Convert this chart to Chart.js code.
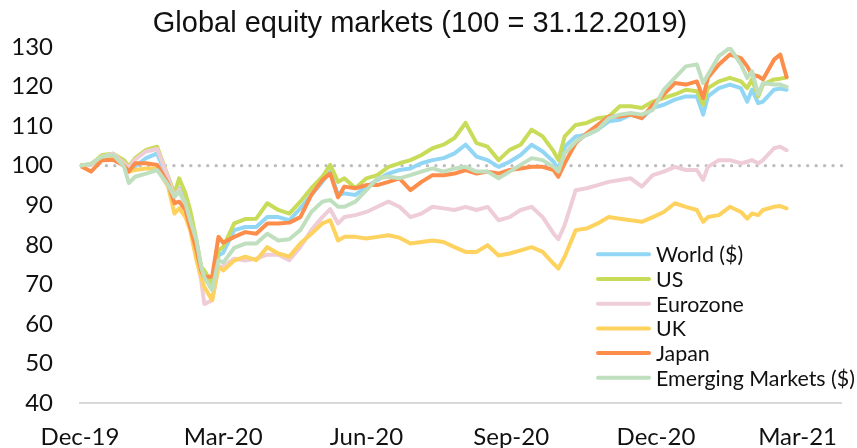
<!DOCTYPE html>
<html>
<head>
<meta charset="utf-8">
<script src="https://cdn.jsdelivr.net/npm/chart.js@4/dist/chart.umd.min.js"></script>
<style>
  html, body { margin: 0; padding: 0; background: #ffffff; }
  #wrap { width: 857px; height: 448px; position: relative; }
</style>
</head>
<body>
<div id="wrap"><canvas id="chart"></canvas></div>
<script>
// Index levels, 100 = 31.12.2019; x values are days since 31.12.2019
const chartTitle = 'Global equity markets (100 = 31.12.2019)';

const days = [0, 7, 14, 21, 28, 31, 35, 42, 49, 56, 60, 63, 67, 70, 74, 77, 79, 84, 88, 91,
  98, 105, 112, 119, 126, 133, 140, 147, 154, 159, 164, 168, 175, 182, 189, 196, 203, 210, 217, 224,
  231, 238, 245, 252, 259, 266, 273, 280, 287, 294, 301, 304, 308, 315, 322, 329, 336, 343, 350, 357,
  364, 371, 378, 385, 392, 396, 399, 406, 413, 420, 424, 427, 431, 434, 441, 445, 449];

const world = [100, 100.2, 102.3, 103, 100.6, 99.5, 99.8, 101.9, 103.1, 96.4, 92.1, 94.3, 91.5, 87.5, 80, 73.5, 72, 69.3, 77.3, 78,
  83.7, 84.5, 84.5, 87, 87, 86.2, 89.2, 92.6, 95.9, 98.5, 92.6, 93, 92.6, 94.7, 96.4, 98, 98.9, 99.3, 100.6, 101.4,
  101.9, 103.1, 105.3, 102.3, 101.4, 99.7, 101, 102.7, 105.3, 103.6, 101, 98.9, 104.8, 107.4, 107.8, 109.1, 111.2, 111.6, 112.9, 112,
  114.6, 115.4, 116.7, 117.5, 117.5, 112.9, 117.5, 119.6, 120.5, 119.6, 116.2, 119.2, 115.8, 116.2, 119.2, 119.5, 119.2];

const us = [100, 100.3, 102.7, 103, 101.4, 99.8, 101.9, 104, 104.8, 97.2, 93, 96.8, 93, 88.8, 81.1, 74.4, 73.5, 70.2, 78.5, 79.5,
  85.4, 86.5, 86.6, 90.5, 88.8, 87.9, 90.9, 94.3, 97.2, 100.2, 95.9, 96.8, 94.3, 96.8, 97.6, 99.7, 100.6, 101.4, 102.7, 104.4,
  105.3, 107, 110.8, 105.7, 104.8, 101.4, 104, 105.3, 109.1, 107.4, 103.6, 101.4, 107.4, 110.3, 110.8, 112, 112.4, 115, 115, 114.6,
  116.2, 117.1, 118, 119.2, 118.8, 115.4, 119.6, 121.3, 122.2, 121.3, 119.6, 121.8, 117.5, 120.5, 121.8, 122, 122.3];

const eurozone = [100, 100.2, 102.3, 103, 100.6, 99.5, 101.5, 103.6, 104.2, 97, 92, 94, 89.6, 85.4, 76.9, 71, 65, 66, 74.5, 74.5,
  76.5, 76, 76.5, 77.5, 77.5, 76.1, 79.4, 83.7, 87, 89, 85.4, 87, 87.5, 88.3, 89.6, 90.9, 89.6, 87, 87.9, 89.6,
  89.2, 88.8, 89.6, 88.8, 89.6, 86.2, 87, 88.8, 89.6, 87, 82.8, 81.4, 85, 93.8, 94.3, 95.1, 95.9, 96.4, 96.8, 94.7,
  97.6, 98.5, 99.7, 98.9, 98.9, 96.4, 99.7, 101.4, 101.4, 100.6, 101, 101.4, 100.6, 101.4, 104.4, 104.8, 103.9];

const uk = [100, 100.5, 102.3, 102.5, 100, 98.5, 98.9, 99.3, 99.3, 94.7, 87.9, 89.2, 87, 83.7, 76.1, 71.8, 69.3, 66, 74.4, 73.5,
  76, 77, 76.1, 79.4, 77.8, 77, 80.3, 82.8, 85.4, 86.2, 81.1, 82, 82, 81.6, 82, 82.4, 81.8, 80.3, 80.7, 81.1,
  80.7, 79.4, 78.2, 78.2, 79.9, 77.3, 77.8, 78.6, 79.4, 78.2, 75.2, 74, 77, 83.7, 84.1, 85.4, 87, 86.6, 86.2, 85.8,
  87, 88.3, 90.5, 89.6, 88.8, 85.8, 87, 87.5, 89.6, 88.3, 86.6, 87.9, 87.5, 88.8, 89.6, 89.8, 89.2];

const japan = [100, 98.5, 101.4, 101.5, 100, 98.5, 100.6, 100.6, 100.2, 95.5, 90.5, 90.9, 88.8, 84.5, 78.6, 73.5, 71.8, 72, 82, 80.5,
  82, 83.2, 82.8, 85.4, 85.4, 85.6, 87, 92.6, 96.4, 98, 92, 94.7, 94.3, 95.1, 95.1, 95.9, 96.8, 93.8, 95.9, 97.6,
  97.6, 98, 98.9, 98, 98.5, 98, 98.9, 99.3, 99.7, 99.7, 98.9, 97.2, 100.6, 105.7, 108.2, 110.3, 112.4, 112.4, 112.9, 112,
  115.4, 118, 120.9, 120.5, 121.3, 117.1, 122.2, 125.6, 128.1, 127.2, 125.1, 123, 122.6, 121.8, 126.8, 128.1, 122.4];

const emerging = [100, 100.5, 102.3, 102.7, 99.8, 95.6, 97.2, 98, 98.9, 95.1, 92.1, 93.4, 90.5, 86.2, 81.1, 74.4, 71.8, 68.5, 76.1, 75.5,
  79.2, 80.3, 80.3, 82.8, 81.1, 81.4, 83.7, 88.3, 90.9, 91.3, 89.6, 89.6, 90.9, 93.8, 96.8, 97.2, 96.8, 97.6, 98.5, 99.3,
  98.5, 99.3, 99.7, 98.5, 98.5, 96.8, 98.5, 100.2, 101.9, 101.4, 99.7, 98.5, 103.1, 106.1, 107.8, 109.1, 112, 112.9, 113.3, 112.9,
  114.1, 119.2, 122.2, 125.1, 125.6, 120.9, 123, 127.7, 129.8, 125.6, 122.2, 123.9, 118, 120.9, 120.5, 120.5, 119.9];

const seriesNames = ['World ($)', 'US', 'Eurozone', 'UK', 'Japan', 'Emerging Markets ($)'];
const seriesColors = ['#92d6f5', '#c8dc5a', '#eecdd8', '#fed25f', '#fd8d4b', '#bfdfbf'];
const seriesValues = [world, us, eurozone, uk, japan, emerging];

const xTickDays = [0, 91, 182, 274, 366, 456];
const xTickLabels = ['Dec-19', 'Mar-20', 'Jun-20', 'Sep-20', 'Dec-20', 'Mar-21'];
const baseLevel = 100;

const labelFont = 'Lato';

// later series are painted on top of earlier ones
const datasets = seriesValues.map((vals, i) => ({
  label: seriesNames[i],
  data: days.map((d, k) => ({ x: d, y: vals[k] })),
  borderColor: seriesColors[i],
  backgroundColor: seriesColors[i],
  borderWidth: 4,
  pointRadius: 0,
  tension: 0,
  borderJoinStyle: 'round',
  borderCapStyle: 'round',
  order: seriesValues.length - i
}));

// dotted reference line at the base level, drawn under the series
const baseLinePlugin = {
  id: 'baseLine',
  beforeDatasetsDraw(chart) {
    const { ctx, chartArea, scales } = chart;
    const y = scales.y.getPixelForValue(baseLevel);
    ctx.save();
    ctx.strokeStyle = '#bdbdbd';
    ctx.lineWidth = 3.4;
    ctx.lineCap = 'round';
    ctx.setLineDash([0, 8.45]);
    ctx.beginPath();
    ctx.moveTo(chartArea.left + 1, y);
    ctx.lineTo(chartArea.right, y);
    ctx.stroke();
    ctx.restore();
  }
};

// title and legend block
const decorPlugin = {
  id: 'decor',
  afterDraw(chart) {
    const { ctx } = chart;
    ctx.save();
    ctx.fillStyle = '#111111';
    ctx.font = '29px "Liberation Sans", Arial, sans-serif';
    ctx.textAlign = 'center';
    ctx.textBaseline = 'alphabetic';
    ctx.fillText(chartTitle, 420, 32);

    const x0 = 598, x1 = 649, tx = 656, top = 254.3, step = 24.7;
    ctx.font = '21.4px ' + labelFont;
    ctx.textAlign = 'left';
    ctx.textBaseline = 'middle';
    chart.data.datasets.forEach((ds, i) => {
      const y = top + i * step;
      ctx.strokeStyle = ds.borderColor;
      ctx.lineWidth = 4;
      ctx.lineCap = 'round';
      ctx.beginPath();
      ctx.moveTo(x0, y);
      ctx.lineTo(x1, y);
      ctx.stroke();
      ctx.fillStyle = '#111111';
      ctx.fillText(ds.label, tx, y + 1);
    });
    ctx.restore();
  }
};

new Chart(document.getElementById('chart'), {
  type: 'line',
  data: { datasets },
  options: {
    responsive: true,
    maintainAspectRatio: false,
    animation: false,
    layout: { padding: { top: 47, right: 0, bottom: 0, left: 0 } },
    plugins: {
      legend: { display: false },
      title: { display: false },
      tooltip: { enabled: false }
    },
    scales: {
      x: {
        type: 'linear',
        min: 0,
        max: 484,
        afterBuildTicks(scale) { scale.ticks = xTickDays.map(v => ({ value: v })); },
        afterFit(scale) { scale.height = 45; },
        ticks: {
          autoSkip: false,
          maxRotation: 0,
          padding: 20,
          color: '#111111',
          font: { family: labelFont, size: 24 },
          callback: (v) => xTickLabels[xTickDays.indexOf(v)]
        },
        grid: { display: false, drawTicks: false },
        border: { display: true, color: '#d9d9d9', width: 2 }
      },
      y: {
        min: 40,
        max: 130,
        afterFit(scale) { scale.width = 80; },
        ticks: {
          stepSize: 10,
          padding: 27,
          color: '#111111',
          font: { family: labelFont, size: 24 }
        },
        grid: { display: false, drawTicks: false },
        border: { display: false }
      }
    }
  },
  plugins: [baseLinePlugin, decorPlugin]
});
</script>
</body>
</html>
